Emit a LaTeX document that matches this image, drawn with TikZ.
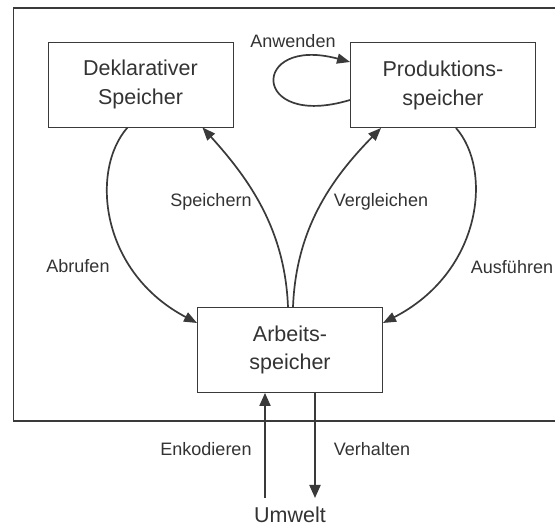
\documentclass[tikz,border=0pt]{standalone}
\usepackage{fontspec}
\setmainfont{Liberation Sans}
\usetikzlibrary{arrows.meta}
\definecolor{ink}{HTML}{3A3A3A}
\definecolor{txt}{HTML}{333333}
\tikzset{
  store/.style={draw=ink, line width=0.9pt, rectangle, inner sep=0pt,
    minimum width=185pt, minimum height=85pt, align=center, text=txt,
    font=\fontsize{21.5}{29}\selectfont},
  lbl/.style={anchor=base, text=txt, inner sep=0pt, font=\fontsize{18}{22}\selectfont},
  flow/.style={draw=ink, line width=1.7pt, -{Triangle[length=13pt,width=10pt]}},
  io/.style={draw=ink, line width=2pt, -{Triangle[length=13pt,width=11pt]}},
  frame/.style={draw=ink, line width=1.6pt}
}
\begin{document}
\begin{tikzpicture}[x=1pt, y=-1pt]
  \useasboundingbox (0,0) rectangle (555,526);
  \fill[white] (0,0) rectangle (555,526);

  % system boundary, open towards the right edge
  \draw[frame] (555,8) -- (13.5,8) -- (13.5,421) -- (555,421);

  % memory stores
  \node[store] (dekl) at (140.5,84.5) {Deklarativer\\Speicher};
  \node[store] (prod) at (443,85) {Produktions-\\speicher};
  \node[store, font=\fontsize{21.5}{28}\selectfont] (arb) at (290,350) {Arbeits-\\speicher};

  % environment
  \node[lbl, font=\fontsize{21.5}{26}\selectfont, outer sep=0pt] (umw) at (290,523) {Umwelt};
  \coordinate (umwIn) at (265,498);
  \coordinate (umwOut) at (315,498);

  % retrieval and storage
  \draw[flow] ([xshift=80pt]dekl.south west)
     .. controls (90,170) and (100,272) .. ([yshift=27pt]arb.west);
  \draw[flow] ([xshift=-2pt]arb.north)
     .. controls (285,230) and (250,180) .. ([xshift=-31pt]dekl.south east);

  % matching and execution
  \draw[flow] ([xshift=3pt]arb.north)
     .. controls (296,230) and (330,180) .. ([xshift=31pt]prod.south west);
  \draw[flow] ([xshift=-80pt]prod.south east)
     .. controls (493,170) and (482,272) .. ([yshift=27pt]arb.east);

  % rule application loop
  \draw[flow] ([yshift=-15pt]prod.west)
     .. controls (250,130) and (250,35) .. ([yshift=23pt]prod.west);

  % exchange with the environment
  \draw[io] (umwIn) -- (umwIn |- arb.south);
  \draw[io] (umwOut |- arb.south) -- (umwOut);

  % labels
  \node[lbl] (lAnw) at (293,48) {Anwenden};
  \node[lbl] (lSpe) at (211,207) {Speichern};
  \node[lbl] (lVer) at (381,207) {Vergleichen};
  \node[lbl] (lAbr) at (78,273) {Abrufen};
  \node[lbl] (lAus) at (512,274) {Ausführen};
  \node[lbl] (lEnk) at (206,456) {Enkodieren};
  \node[lbl] (lVeh) at (372,456) {Verhalten};
\end{tikzpicture}
\end{document}
